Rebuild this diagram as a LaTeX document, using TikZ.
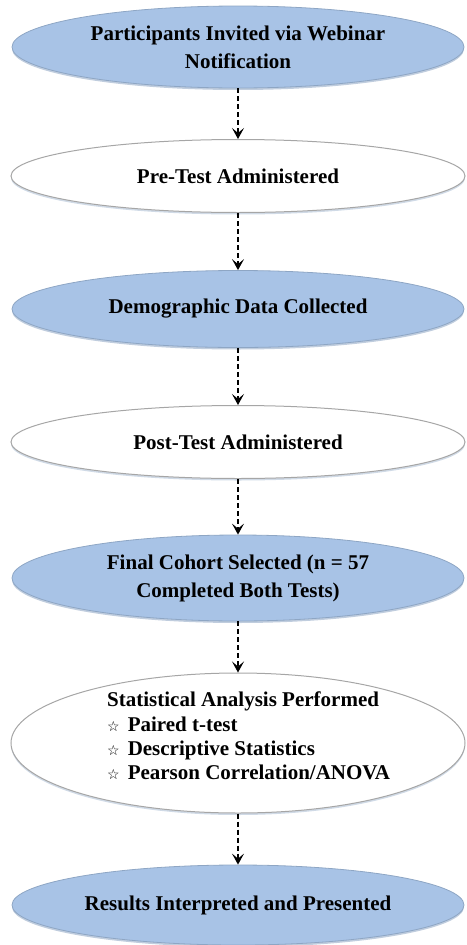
\documentclass[tikz,border=0pt]{standalone}
\usepackage{fontspec}
\setmainfont{Liberation Serif}
\newfontfamily\starfont{DejaVu Sans}
\usetikzlibrary{shapes.geometric,arrows.meta,shadows}
\definecolor{stepblue}{HTML}{A8C3E6}
\definecolor{stepedge}{HTML}{8EA6C4}
\tikzset{
	bluestep/.style={ellipse, fill=stepblue, draw=stepedge, line width=0.8pt, inner sep=0pt,
		drop shadow={shadow xshift=0pt, shadow yshift=-2pt, fill=stepedge!80, opacity=0.7},
		font=\bfseries\fontsize{21}{28}\selectfont, align=center},
	whitestep/.style={ellipse, fill=white, draw=gray!70, line width=1pt, inner sep=0pt,
		drop shadow={shadow xshift=0pt, shadow yshift=-2pt, fill=stepedge!70, opacity=0.6},
		font=\bfseries\fontsize{21}{28}\selectfont, align=center},
	flow/.style={-{Stealth[length=11pt,width=12pt,inset=5pt]}, dash pattern=on 5pt off 3pt, line width=1.2pt}
}
\newcommand{\bstar}{{\starfont\fontsize{14}{24}\selectfont ☆}\hspace{8pt}}
\begin{document}
\begin{tikzpicture}[x=1pt,y=-1pt]
		\useasboundingbox (0,0) rectangle (466,945);
		% Nodes
		\node[bluestep, minimum width=452, minimum height=82] (invite) at (238,47) {Participants Invited via Webinar\\Notification};
		\node[whitestep, minimum width=454, minimum height=73] (pretest) at (238,176) {Pre-Test Administered};
		\node[bluestep, minimum width=452, minimum height=77] (demog) at (238,309) {Demographic Data Collected};
		\node[whitestep, minimum width=454, minimum height=73] (posttest) at (238,442) {Post-Test Administered};
		\node[bluestep, minimum width=452, minimum height=86] (cohort) at (238,578) {Final Cohort Selected (n = 57\\Completed Both Tests)};
		\node[whitestep, minimum width=454, minimum height=140] (stats) at (238,743) {};
		\node[font=\bfseries\fontsize{21}{24.3}\selectfont, align=left, anchor=north west, inner sep=0pt] (statstext) at (107,692) {Statistical Analysis Performed\\
			\bstar Paired t-test\\
			\bstar Descriptive Statistics\\
			\bstar Pearson Correlation/ANOVA};
		\node[bluestep, minimum width=452, minimum height=80] (results) at (238,905) {Results Interpreted and Presented};
		% Arrows
		\draw[flow] (invite) -- (pretest);
		\draw[flow] (pretest) -- (demog);
		\draw[flow] (demog) -- (posttest);
		\draw[flow] (posttest) -- (cohort);
		\draw[flow] (cohort) -- (stats);
		\draw[flow] (stats) -- (results);
	\end{tikzpicture}
\end{document}
